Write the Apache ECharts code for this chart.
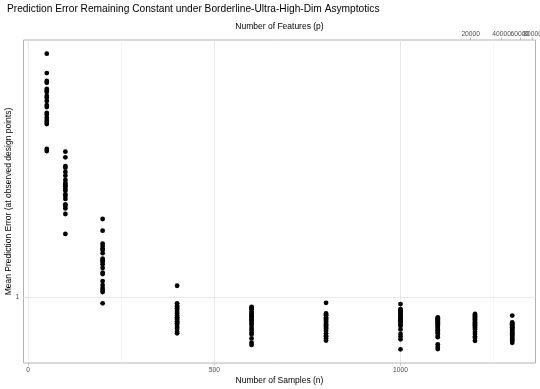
<!DOCTYPE html>
<html>
<head>
<meta charset="utf-8">
<script src="https://cdn.jsdelivr.net/npm/echarts@6/dist/echarts.min.js"></script>
<style>
html,body{margin:0;padding:0;background:#fff;}
#chart{width:540px;height:389px;}
</style>
</head>
<body>
<div id="chart"></div>
<script>
// ---- data ----
const nSamples = [50, 100, 200, 400, 600, 800, 1000, 1100, 1200, 1300];
const err_n50   = [2.544, 2.362, 2.291, 2.276, 2.222, 2.207, 2.196, 2.163, 2.149, 2.122, 2.089, 2.073, 2.028, 2.013, 1.990, 1.972, 1.957, 1.942, 1.765, 1.751];
const err_n100  = [1.747, 1.709, 1.653, 1.643, 1.616, 1.593, 1.567, 1.549, 1.539, 1.529, 1.515, 1.504, 1.483, 1.473, 1.457, 1.427, 1.418, 1.405, 1.375, 1.274];
const err_n200  = [1.349, 1.290, 1.227, 1.216, 1.204, 1.198, 1.183, 1.158, 1.151, 1.144, 1.134, 1.118, 1.098, 1.092, 1.063, 1.047, 1.035, 1.027, 1.019, 0.976];
const err_n400  = [1.044, 0.976, 0.967, 0.964, 0.958, 0.951, 0.944, 0.939, 0.931, 0.925, 0.921, 0.916, 0.910, 0.909, 0.904, 0.898, 0.891, 0.885, 0.875, 0.870];
const err_n600  = [0.963, 0.959, 0.954, 0.945, 0.939, 0.932, 0.930, 0.925, 0.918, 0.916, 0.911, 0.904, 0.898, 0.888, 0.881, 0.873, 0.867, 0.853, 0.839, 0.832];
const err_n800  = [0.978, 0.939, 0.935, 0.932, 0.924, 0.921, 0.916, 0.912, 0.907, 0.901, 0.896, 0.892, 0.888, 0.884, 0.878, 0.870, 0.862, 0.859, 0.853, 0.846];
const err_n1000 = [0.973, 0.954, 0.950, 0.945, 0.940, 0.937, 0.930, 0.926, 0.922, 0.917, 0.913, 0.910, 0.906, 0.899, 0.895, 0.883, 0.868, 0.859, 0.850, 0.818];
const err_n1100 = [0.925, 0.922, 0.918, 0.914, 0.911, 0.907, 0.904, 0.900, 0.896, 0.891, 0.888, 0.883, 0.879, 0.875, 0.870, 0.861, 0.857, 0.834, 0.826, 0.819];
const err_n1200 = [0.937, 0.933, 0.930, 0.926, 0.923, 0.919, 0.916, 0.912, 0.907, 0.903, 0.899, 0.896, 0.892, 0.888, 0.883, 0.875, 0.868, 0.859, 0.854, 0.845];
const err_n1300 = [0.931, 0.907, 0.904, 0.901, 0.896, 0.892, 0.890, 0.888, 0.884, 0.881, 0.878, 0.874, 0.870, 0.866, 0.862, 0.858, 0.852, 0.849, 0.845, 0.839];
const errorGroups = [err_n50, err_n100, err_n200, err_n400, err_n600, err_n800, err_n1000, err_n1100, err_n1200, err_n1300];

const xTickLabels = [0, 500, 1000];
const xMinorGrid = [250, 1250];
const yTickLabels = [1];
const pTickLabels = [20000, 40000, 60000, 80000];

// borderline ultra-high-dim relation: log p = n / 120
const pScale = 120;
const nFromP = p => pScale * Math.log(p);
const pTickPos = pTickLabels.map(nFromP);
// split alternating labels across two top axes so overlapping labels are all drawn (as in the reference)
const pTickPosA = pTickPos.filter((_, i) => i % 2 === 0);
const pTickPosB = pTickPos.filter((_, i) => i % 2 === 1);

const xMin = -12.5, xMax = 1362.5;
const yMin = 0.7762, yMax = 2.6815;

// ---- build ----
const points = [];
nSamples.forEach((n, i) => errorGroups[i].forEach(v => points.push([n, v])));

const font = 'Liberation Sans, Arial, Helvetica, sans-serif';
const gridMajor = {color: '#e3e3e3', width: 0.8, type: 'solid'};
const gridMinor = {color: '#ececec', width: 0.5, type: 'solid'};

const markData = []
  .concat(xTickLabels.map(v => ({xAxis: v, lineStyle: gridMajor})))
  .concat(xMinorGrid.map(v => ({xAxis: v, lineStyle: gridMinor})))
  .concat(yTickLabels.map(v => ({yAxis: v, lineStyle: gridMajor})));

const pFormatter = v => {
  let best = 0;
  pTickPos.forEach((q, i) => { if (Math.abs(q - v) < Math.abs(pTickPos[best] - v)) best = i; });
  return String(pTickLabels[best]);
};
const tickStyle = {color: '#b3b3b3', width: 0.8};
const labelBase = {fontSize: 6.7, color: '#4d4d4d', fontFamily: font, hideOverlap: false};
const nameStyle = {fontFamily: font, fontSize: 8.5, color: '#000'};

function topAxis(vals, withName) {
  return {
    type: 'value', position: 'top', min: xMin, max: xMax,
    name: withName ? 'Number of Features (p)' : '', nameLocation: 'middle', nameGap: 8.5,
    nameMoveOverlap: false,
    nameTextStyle: nameStyle,
    axisLine: {show: false},
    axisTick: {show: true, customValues: vals, length: 2.7, lineStyle: tickStyle},
    axisLabel: Object.assign({customValues: vals, margin: 2.5, formatter: pFormatter}, labelBase),
    splitLine: {show: false}
  };
}

const chart = echarts.init(document.getElementById('chart'), null, {renderer: 'canvas'});
chart.setOption({
  animation: false,
  backgroundColor: '#ffffff',
  textStyle: {fontFamily: font},
  title: {
    text: 'Prediction Error Remaining Constant under Borderline-Ultra-High-Dim Asymptotics',
    left: 7, top: 4.5, padding: 0,
    textStyle: {fontFamily: font, fontSize: 10.2, fontWeight: 'normal', color: '#000'}
  },
  grid: {
    left: 23.5, right: 4.5, top: 40, bottom: 26,
    containLabel: false, outerBoundsMode: 'none',
    show: true, borderColor: '#b3b3b3', borderWidth: 1, backgroundColor: 'transparent'
  },
  xAxis: [{
    type: 'value', position: 'bottom', min: xMin, max: xMax,
    name: 'Number of Samples (n)', nameLocation: 'middle', nameGap: 13,
    nameMoveOverlap: false,
    nameTextStyle: nameStyle,
    axisLine: {show: false},
    axisTick: {show: true, customValues: xTickLabels, length: 2.7, lineStyle: tickStyle},
    axisLabel: Object.assign({customValues: xTickLabels, margin: 3.5, formatter: v => String(v)}, labelBase),
    splitLine: {show: false}
  }, topAxis(pTickPosA, true), topAxis(pTickPosB, false)],
  yAxis: {
    type: 'log', logBase: 10, min: yMin, max: yMax,
    name: 'Mean Prediction Error (at observed design points)', nameLocation: 'middle', nameGap: 10.5,
    nameMoveOverlap: false,
    nameTextStyle: nameStyle,
    axisLine: {show: false},
    axisTick: {show: true, customValues: yTickLabels, length: 2.7, lineStyle: tickStyle},
    axisLabel: Object.assign({customValues: yTickLabels, margin: 4.3,
      formatter: v => String(Math.round(v * 1000) / 1000)}, labelBase),
    splitLine: {show: false},
    minorSplitLine: {show: false}
  },
  series: [{
    type: 'scatter',
    xAxisIndex: 0, yAxisIndex: 0,
    data: points,
    symbol: 'circle', symbolSize: 4.8,
    itemStyle: {color: '#000', opacity: 1},
    z: 3,
    silent: true,
    markLine: {
      z: 1, silent: true, symbol: ['none', 'none'], label: {show: false},
      animation: false,
      data: markData
    }
  }]
});
</script>
</body>
</html>
